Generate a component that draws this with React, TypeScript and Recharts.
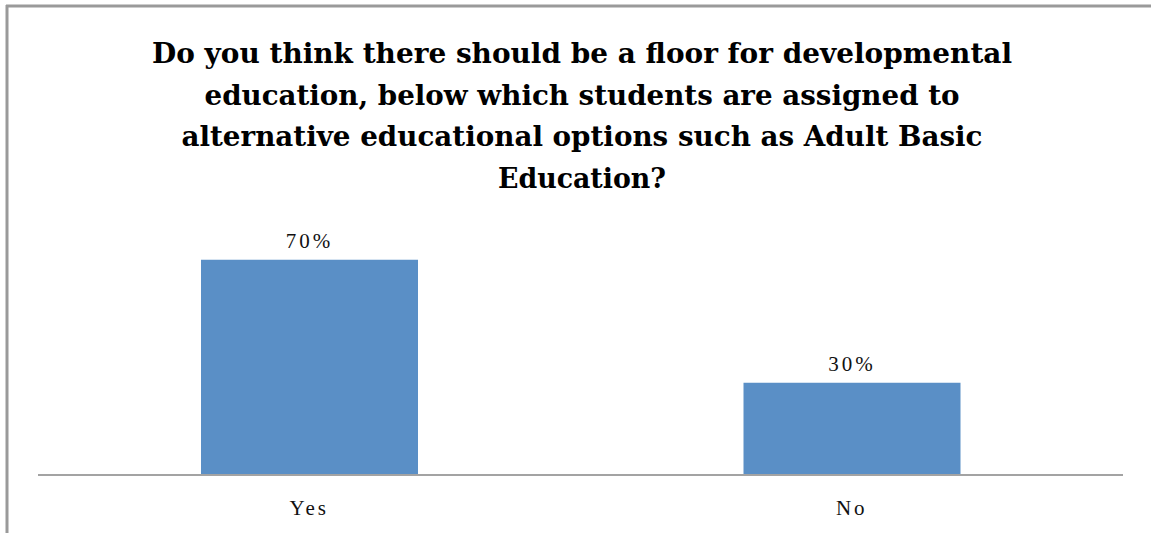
import { BarChart, Bar, XAxis, YAxis, LabelList } from 'recharts';

const answers = ['Yes', 'No'];
const shares = [0.7, 0.3];
const titleLines = [
  'Do you think there should be a floor for developmental',
  'education, below which students are assigned to',
  'alternative educational options such as Adult Basic',
  'Education?',
];
// measured widths of each title line in the reference
const titleWidths = [860, 755, 801, 168];

const rows = answers.map((answer, i) => ({ answer, share: shares[i] }));

const W = 1151;
const H = 533;

export default function App() {
  return (
    <div style={{ position: 'absolute', left: 0, top: 0, width: W, height: H, background: '#fff' }}>
      <BarChart
        width={W}
        height={H}
        data={rows}
        margin={{ top: 229, right: 28, bottom: 0, left: 38 }}
        barSize={217}
      >
        <XAxis
          dataKey="answer"
          height={58}
          tickLine={false}
          axisLine={{ stroke: '#a3a3a3', strokeWidth: 2 }}
          tick={{ fill: '#111', fontSize: 21, fontFamily: 'Liberation Serif', letterSpacing: 3 }}
          dy={17}
        />
        <YAxis hide domain={[0, 0.8]} />
        <Bar dataKey="share" fill="#5A8FC6" isAnimationActive={false}>
          <LabelList
            dataKey="share"
            position="top"
            offset={12}
            formatter={(v: number) => `${Math.round(v * 100)}%`}
            style={{ fill: '#111', fontSize: 21, fontFamily: 'Liberation Serif', letterSpacing: 3 }}
          />
        </Bar>
      </BarChart>
      <svg width={W} height={H} style={{ position: 'absolute', left: 0, top: 0, pointerEvents: 'none' }}>
        <line x1={6} y1={6} x2={W} y2={6} stroke="#9a9a9a" strokeWidth={3} />
        <line x1={7} y1={5} x2={7} y2={H} stroke="#9a9a9a" strokeWidth={3} />
        {titleLines.map((line, i) => (
          <text
            key={i}
            x={582}
            y={63 + i * 41.5}
            textAnchor="middle"
            textLength={titleWidths[i]}
            lengthAdjust="spacingAndGlyphs"
            fontFamily="DejaVu Serif"
            fontWeight="bold"
            fontSize={27}
            fill="#000"
          >
            {line}
          </text>
        ))}
      </svg>
    </div>
  );
}
